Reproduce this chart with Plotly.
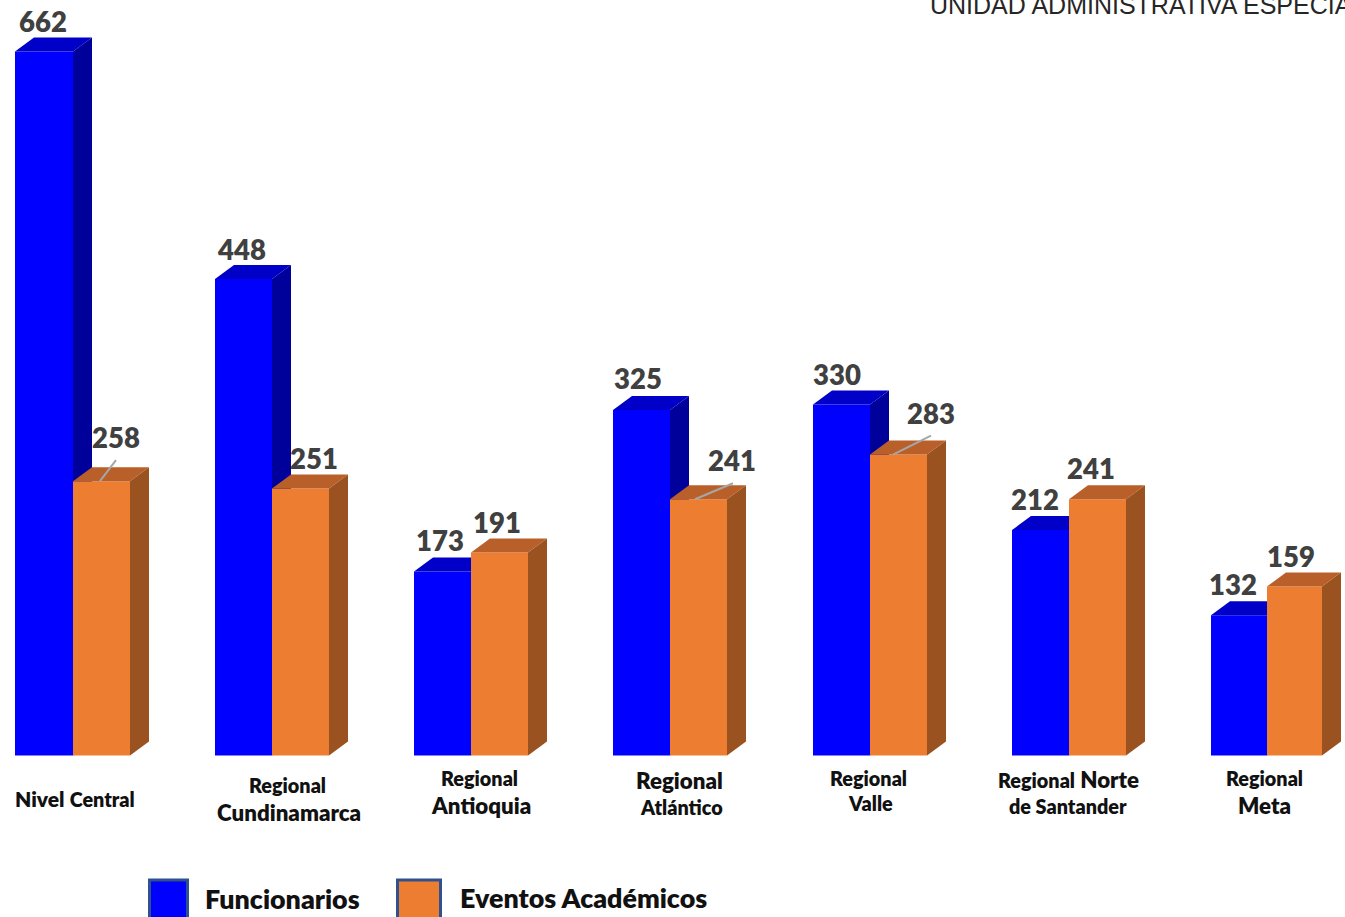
import plotly.graph_objects as go

# ---- data ----
S = "<span style='font-size:19.8px'>%s</span>"
cat_line1 = [
    "<span style='font-size:21px'>Nivel</span> " + S % "Central",
    S % "Regional",
    S % "Regional",
    "Regional",
    S % "Regional",
    S % "Regional" + " Norte",
    S % "Regional",
]
cat_line2 = ["", "Cundinamarca", "Antioquia", S % "Atlántico", S % "Valle", S % "de Santander", "Meta"]
funcionarios = [662, 448, 173, 325, 330, 212, 132]
eventos = [258, 251, 191, 241, 283, 241, 159]
series_names = ["Funcionarios", "Eventos Académicos"]
header_text = "UNIDAD ADMINISTRATIVA ESPECIAL"

# ---- style / layout constants (the x axis runs in page pixels) ----
W, H = 1345, 917
BASE_PX = 755.5
PX_PER_UNIT = 704 / 662
X_RANGE = [0, W]
Y_RANGE = [-(H - BASE_PX) / PX_PER_UNIT, BASE_PX / PX_PER_UNIT]
group_x = [73, 272, 471, 670, 870, 1069, 1267]
blue_w = [58, 57, 57, 57, 57, 57, 56]
org_w = [57, 57, 57, 57, 57, 57, 55]
DX = 19
DY = 14 / PX_PER_UNIT

BLUE, BLUE_TOP, BLUE_SIDE = "#0000FF", "#0000C8", "#00009A"
ORG, ORG_TOP, ORG_SIDE = "#ED7D31", "#B9602A", "#9A5320"
LBL = "#404040"
INK = "#111111"
FONT = "Lato"
WEIGHT = 800

# label offsets in pixels relative to bar centre / top
blue_dx = [-1, -2, -3, -4, -5, -6, -6]
blue_dy = [30, 30, 31, 31, 30, 31, 31]
org_dx = [14, 13, -3, 33, 32, -7, -4]
org_dy = [44, 30, 30, 39, 41, 31, 30]
# category label line centres
cat_x1 = [74.5, 287, 479, 679, 868, 1068, 1264]
cat_x2 = [74.5, 289, 481, 681, 870, 1068, 1264]
cat_y1 = [798, 785, 777.5, 780, 777.5, 779.5, 777.5]
cat_y2 = [0, 812, 805, 807, 803, 806, 805]
# index -> (dx0, dx1, dy1) leader lines in pixels
leaders = {0: (27, 43, 21), 3: (25, 63, 16), 4: (23, 61, 19)}

fig = go.Figure()


def box3d(xl, w, v, top, side, xa, ya):
    xr = xl + w
    fig.add_trace(go.Scatter(
        x=[xl, xl + DX, xr + DX, xr, xl], y=[v, v + DY, v + DY, v, v],
        mode="lines", line=dict(width=0), fill="toself", fillcolor=top,
        hoverinfo="skip", showlegend=False, xaxis=xa, yaxis=ya))
    fig.add_trace(go.Scatter(
        x=[xr, xr + DX, xr + DX, xr, xr], y=[v, v + DY, DY, 0, v],
        mode="lines", line=dict(width=0), fill="toself", fillcolor=side,
        hoverinfo="skip", showlegend=False, xaxis=xa, yaxis=ya))


# back layer: Funcionarios
fig.add_trace(go.Bar(x=[g - w / 2 for g, w in zip(group_x, blue_w)], y=funcionarios, width=blue_w,
                     marker=dict(color=BLUE, line=dict(width=0)),
                     name=series_names[0], showlegend=False, xaxis="x", yaxis="y"))
for g, w, v in zip(group_x, blue_w, funcionarios):
    box3d(g - w, w, v, BLUE_TOP, BLUE_SIDE, "x", "y")

# front layer: Eventos
fig.add_trace(go.Bar(x=[g + w / 2 for g, w in zip(group_x, org_w)], y=eventos, width=org_w,
                     marker=dict(color=ORG, line=dict(width=0)),
                     name=series_names[1], showlegend=False, xaxis="x2", yaxis="y2"))
for g, w, v in zip(group_x, org_w, eventos):
    box3d(g, w, v, ORG_TOP, ORG_SIDE, "x2", "y2")

for i, (d0, d1, dy) in leaders.items():
    fig.add_trace(go.Scatter(x=[group_x[i] + d0, group_x[i] + d1],
                             y=[eventos[i], eventos[i] + dy / PX_PER_UNIT],
                             mode="lines", line=dict(color="#A6A6A6", width=2),
                             hoverinfo="skip", showlegend=False, xaxis="x2", yaxis="y2"))

ann = []
for i, g in enumerate(group_x):
    ann.append(dict(x=g - blue_w[i] / 2, y=funcionarios[i], text=str(funcionarios[i]), xref="x2", yref="y2",
                    xshift=blue_dx[i], yshift=blue_dy[i], showarrow=False,
                    font=dict(family=FONT, size=27.5, color=LBL, weight=WEIGHT)))
    ann.append(dict(x=g + org_w[i] / 2, y=eventos[i], text=str(eventos[i]), xref="x2", yref="y2",
                    xshift=org_dx[i], yshift=org_dy[i], showarrow=False,
                    font=dict(family=FONT, size=27.5, color=LBL, weight=WEIGHT)))
    for tx, px, py in ((cat_line1[i], cat_x1[i], cat_y1[i]), (cat_line2[i], cat_x2[i], cat_y2[i])):
        if tx:
            ann.append(dict(x=px / W, xref="paper", y=1 - py / H, yref="paper",
                            text=tx, showarrow=False, align="center",
                            xanchor="center", yanchor="middle",
                            font=dict(family=FONT, size=22.3, color=INK, weight=WEIGHT)))

ann += [
    dict(x=203 / W, y=1 - 899 / H, xref="paper", yref="paper", xanchor="left", yanchor="middle",
         text=series_names[0], showarrow=False,
         font=dict(family=FONT, size=26.8, color=INK, weight=WEIGHT)),
    dict(x=458 / W, y=1 - 898 / H, xref="paper", yref="paper", xanchor="left", yanchor="middle",
         text=series_names[1], showarrow=False,
         font=dict(family=FONT, size=26.8, color=INK, weight=WEIGHT)),
    dict(x=927.5 / W, y=1 - 20.5 / H, xref="paper", yref="paper", xanchor="left", yanchor="bottom",
         text=header_text, showarrow=False, font=dict(family="Liberation Sans", size=25, color="#262626")),
]

shapes = [
    dict(type="rect", xref="paper", yref="paper", x0=149.5 / W, x1=187.5 / W, y0=-0.01, y1=1 - 880 / H,
         fillcolor=BLUE, line=dict(color="#2F528F", width=3)),
    dict(type="rect", xref="paper", yref="paper", x0=397.5 / W, x1=440.5 / W, y0=-0.01, y1=1 - 880 / H,
         fillcolor=ORG, line=dict(color="#2F528F", width=3)),
]

ax = dict(visible=False, fixedrange=True)
fig.update_layout(
    width=W, height=H, margin=dict(l=0, r=0, t=0, b=0),
    paper_bgcolor="white", plot_bgcolor="white", showlegend=False,
    xaxis=dict(range=X_RANGE, domain=[0, 1], **ax),
    yaxis=dict(range=Y_RANGE, domain=[0, 1], **ax),
    xaxis2=dict(range=X_RANGE, overlaying="x", **ax),
    yaxis2=dict(range=Y_RANGE, overlaying="y", **ax),
    annotations=ann, shapes=shapes, barmode="overlay",
)
fig.write_html("out.html", config={"displayModeBar": False},
               post_script="document.body.style.margin='0';document.body.style.overflow='hidden';")
